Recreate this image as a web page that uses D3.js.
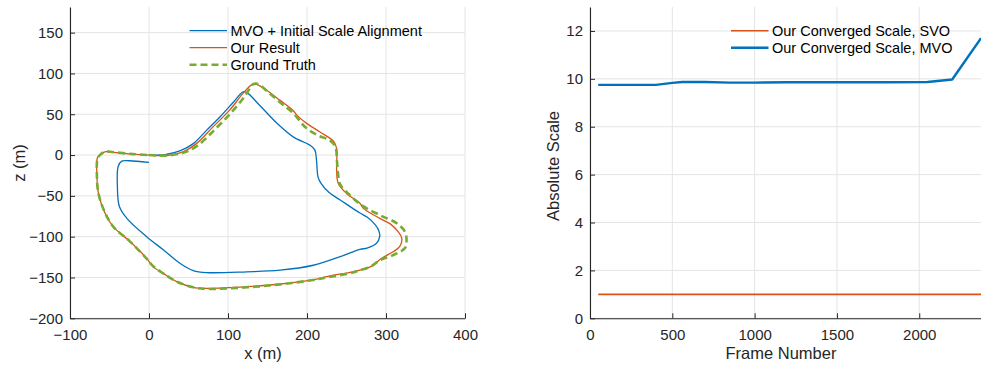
<!DOCTYPE html>
<html>
<head>
<meta charset="utf-8">
<script src="https://cdn.jsdelivr.net/npm/d3@7"></script>
<style>
  html, body { margin: 0; padding: 0; background: #fff; }
  svg { display: block; font-family: "Liberation Sans", Arial, Helvetica, sans-serif; }
</style>
</head>
<body>
<svg id="chart" width="981" height="365"></svg>
<script>
// ---------- Left chart data: trajectories [x (m), z (m)] ----------
const mvoPath = [
  [5,0],[20,0.5],[39,5],[56,14],[73,30.5],[90,47],[107,65],[119,77.5],[124,76.5],[140,61],
  [162,39],[183,22],[204,12],[210,6],[212,-6],[214,-27],[218,-35],[228,-46],[242,-55],[267,-71],
  [276,-76],[286,-85],[291,-93],[292,-100],[288,-108],[276,-114],[267,-115.5],[242,-124.5],[208,-135],
  [166,-141],[124,-143],[73,-144],[56,-141.5],[39,-132.5],[18,-116],[-3,-100],[-28,-77.5],[-37.5,-63],
  [-40,-39],[-39,-14],[-34.5,-7.5],[-25,-7],[0,-9]
];
const ourPath = [
  [0,0],[22,-0.8],[43,4],[60,14],[81,34.5],[102,55],[119,75.5],[130,86],[136,86.5],[149,79.5],
  [166,67],[182,55],[188,48],[200,38.5],[216,28.5],[234,16.5],[237.5,8],[237.5,-18],[239.5,-34.5],
  [250,-47],[267,-59],[271,-65],[292,-77.5],[305,-84],[315.5,-94],[320,-102],[317.5,-112],[309,-118.5],
  [294.5,-126.5],[280,-137],[267,-141],[258.5,-143],[225,-149],[208,-153],[166,-158],[124,-161.3],
  [73,-163.3],[56,-162],[35,-155],[18,-145],[5.5,-137],[-3,-126.5],[-24,-106],[-45,-88],[-55.5,-71.5],
  [-64,-47],[-66,-22.5],[-65.5,-4],[-62,0],[-56,4],[-45,3.2],[-20,1.2],[0,0]
];
const truthPath = [
  [0,0],[22,-0.5],[44,3],[62,12],[84,32],[105,53],[122,73],[132,87],[138,87],[151,77],
  [168,63],[183,51],[198,34],[214,24],[229,18],[236,10],[238,-8],[239,-20],[242,-36],
  [253,-48],[270,-62],[292,-73.5],[313.5,-83.5],[324,-94],[326,-104],[324,-114],[309,-122.5],
  [292,-129],[280,-137],[267,-141],[258,-144],[225,-150],[208,-153],[166,-158.5],[124,-162],
  [73,-164],[56,-162],[35,-155],[18,-145],[5,-136],[-3,-127],[-24,-106],[-45,-88],[-55.5,-71],
  [-64,-47],[-66,-22],[-65,-4],[-61,1],[-55,4.5],[-45,3.5],[-20,1.2],[0,0]
];
const leftXTicks = [-100, 0, 100, 200, 300, 400];
const leftYTicks = [-200, -150, -100, -50, 0, 50, 100, 150];
const leftLegend = ["MVO + Initial Scale Alignment", "Our Result", "Ground Truth"];

// ---------- Right chart data ----------
const mvoFrames = [50, 400, 500, 560, 700, 850, 1000, 1200, 1500, 1800, 2050, 2200, 2375];
const mvoScale  = [9.75, 9.75, 9.83, 9.87, 9.87, 9.84, 9.84, 9.86, 9.86, 9.86, 9.87, 9.97, 11.7];
const svoFrames = [50, 2375];
const svoScale  = [1.0, 1.0];
const rightXTicks = [0, 500, 1000, 1500, 2000];
const rightYTicks = [0, 2, 4, 6, 8, 10, 12];
const rightLegend = ["Our Converged Scale, SVO", "Our Converged Scale, MVO"];

const C_BLUE = "#0072BD", C_ORANGE = "#D95319", C_GREEN = "#77AC30";
const AX = "#262626", GRID = "#e4e4e4";
const TICK_FS = 15, LABEL_FS = 16.5, LEG_FS = 14.5;

const svg = d3.select("#chart");

function drawGrid(g, x, y, xt, yt) {
  const [x0, x1] = x.range(), [y0, y1] = y.range();
  g.append("g").selectAll("line").data(xt).join("line")
    .attr("x1", d => x(d)).attr("x2", d => x(d)).attr("y1", y0).attr("y2", y1)
    .attr("stroke", GRID).attr("stroke-width", 1);
  g.append("g").selectAll("line").data(yt).join("line")
    .attr("x1", x0).attr("x2", x1).attr("y1", d => y(d)).attr("y2", d => y(d))
    .attr("stroke", GRID).attr("stroke-width", 1);
}
function drawAxisLines(g, x, y, xt, yt) {
  const fmt = d3.format("d");
  const xa = g.append("g").attr("transform", `translate(0,${y.range()[0]})`)
    .call(d3.axisBottom(x).tickValues(xt).tickFormat(fmt).tickSize(-5).tickSizeOuter(0).tickPadding(11));
  const ya = g.append("g").attr("transform", `translate(${x.range()[0]},0)`)
    .call(d3.axisLeft(y).tickValues(yt).tickFormat(fmt).tickSize(-5).tickSizeOuter(0).tickPadding(7));
  [xa, ya].forEach(a => {
    a.select(".domain").attr("stroke", AX).attr("stroke-width", 1.1);
    a.selectAll(".tick line").attr("stroke", AX);
    a.selectAll(".tick text").attr("fill", AX).attr("font-size", TICK_FS)
      .attr("font-family", "Liberation Sans, Arial, sans-serif");
  });
}

// ================= LEFT CHART =================
const xL = d3.scaleLinear().domain([-100, 400]).range([70, 465]);
const yL = d3.scaleLinear().domain([-200, 181.4]).range([318.3, 7]);
const gL = svg.append("g");
drawGrid(gL, xL, yL, leftXTicks, leftYTicks);

const lineL = d3.line().x(d => xL(d[0])).y(d => yL(d[1])).curve(d3.curveCatmullRom.alpha(0.5));
gL.append("path").attr("d", lineL(mvoPath)).attr("fill", "none").attr("stroke", C_BLUE).attr("stroke-width", 1.3);
gL.append("path").attr("d", lineL(ourPath)).attr("fill", "none").attr("stroke", C_ORANGE).attr("stroke-width", 1.3);
gL.append("path").attr("d", lineL(truthPath)).attr("fill", "none").attr("stroke", C_GREEN)
  .attr("stroke-width", 2.6).attr("stroke-dasharray", "7,4");

drawAxisLines(gL, xL, yL, leftXTicks, leftYTicks);

gL.append("text").attr("x", 263).attr("y", 359).attr("text-anchor", "middle")
  .attr("font-size", LABEL_FS).attr("fill", AX).text("x (m)");
gL.append("text").attr("transform", "translate(25,163) rotate(-90)").attr("text-anchor", "middle")
  .attr("font-size", LABEL_FS).attr("fill", AX).text("z (m)");

const legLStyles = [
  {c: C_BLUE, w: 1.3, dash: null},
  {c: C_ORANGE, w: 1.3, dash: null},
  {c: C_GREEN, w: 2.6, dash: "7,4"}
];
leftLegend.forEach((t, i) => {
  const yy = 30.7 + i * 17;
  const s = legLStyles[i];
  gL.append("line").attr("x1", 189.5).attr("x2", 227).attr("y1", yy).attr("y2", yy)
    .attr("stroke", s.c).attr("stroke-width", s.w).attr("stroke-dasharray", s.dash);
  gL.append("text").attr("x", 230.5).attr("y", yy + 5.2).attr("font-size", LEG_FS)
    .attr("fill", "#000").text(t);
});

// ================= RIGHT CHART =================
const xR = d3.scaleLinear().domain([0, 2375]).range([590, 981]);
const yR = d3.scaleLinear().domain([0, 13]).range([318.3, 7]);
const gR = svg.append("g");
drawGrid(gR, xR, yR, rightXTicks, rightYTicks);

const lineR = d3.line().x(d => xR(d[0])).y(d => yR(d[1]));
const svoData = svoFrames.map((f, i) => [f, svoScale[i]]);
const mvoData = mvoFrames.map((f, i) => [f, mvoScale[i]]);
gR.append("path").attr("d", lineR(svoData)).attr("fill", "none").attr("stroke", C_ORANGE).attr("stroke-width", 1.6);
gR.append("path").attr("d", lineR(mvoData)).attr("fill", "none").attr("stroke", C_BLUE).attr("stroke-width", 2.4)
  .attr("stroke-linejoin", "round");

drawAxisLines(gR, xR, yR, rightXTicks, rightYTicks);

gR.append("text").attr("x", 781).attr("y", 359).attr("text-anchor", "middle")
  .attr("font-size", LABEL_FS).attr("fill", AX).text("Frame Number");
gR.append("text").attr("transform", "translate(559,166) rotate(-90)").attr("text-anchor", "middle")
  .attr("font-size", LABEL_FS).attr("fill", AX).text("Absolute Scale");

const legRStyles = [{c: C_ORANGE, w: 1.6}, {c: C_BLUE, w: 2.4}];
rightLegend.forEach((t, i) => {
  const yy = 30.7 + i * 17;
  gR.append("line").attr("x1", 731).attr("x2", 768.5).attr("y1", yy).attr("y2", yy)
    .attr("stroke", legRStyles[i].c).attr("stroke-width", legRStyles[i].w);
  gR.append("text").attr("x", 772).attr("y", yy + 5.2).attr("font-size", LEG_FS)
    .attr("fill", "#000").text(t);
});
</script>
</body>
</html>
